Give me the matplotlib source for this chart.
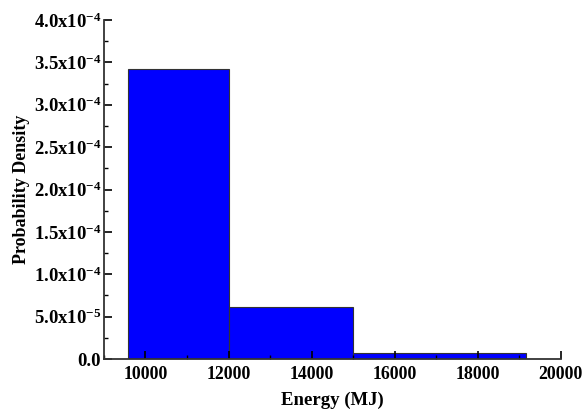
import numpy as np
import matplotlib
matplotlib.use("Agg")
import matplotlib.pyplot as plt
import matplotlib.ticker as mtick

# histogram bins (MJ) and probability density
bin_edges = [9580, 12000, 15000, 19160]
densities = [3.42e-4, 6.1e-5, 7.0e-6]

x_ticks = [10000, 12000, 14000, 16000, 18000, 20000]
y_ticks = [0.0, 5e-5, 1e-4, 1.5e-4, 2e-4, 2.5e-4, 3e-4, 3.5e-4, 4e-4]


def sci_label(v, pos=None):
    if v == 0:
        return "0.0"
    exp = int(np.floor(np.log10(abs(v))))
    mant = v / 10 ** exp
    return "%.1fx10$^{%d}$" % (mant, exp)


def main():
    plt.rcParams['font.family'] = ['Liberation Serif', 'DejaVu Serif']
    plt.rcParams['font.weight'] = 'bold'
    plt.rcParams['mathtext.fontset'] = 'custom'
    plt.rcParams['mathtext.rm'] = 'Liberation Serif:bold'
    plt.rcParams['mathtext.it'] = 'Liberation Serif:bold'
    plt.rcParams['mathtext.bf'] = 'Liberation Serif:bold'

    fig = plt.figure(figsize=(5.84, 4.17), dpi=100)
    ax = fig.add_axes([0.178, 0.139, 0.782, 0.813])

    lefts = bin_edges[:-1]
    widths = np.diff(bin_edges)
    ax.bar(lefts, densities, width=widths, align='edge', color='#0000ff',
           edgecolor='#333333', linewidth=0.8)

    ax.set_xlim(9000, 20000)
    ax.set_ylim(0, 4e-4)
    ax.set_xticks(x_ticks)
    ax.set_yticks(y_ticks)
    ax.xaxis.set_minor_locator(mtick.MultipleLocator(1000))
    ax.yaxis.set_minor_locator(mtick.MultipleLocator(2.5e-5))
    ax.yaxis.set_major_formatter(mtick.FuncFormatter(sci_label))

    ax.spines['top'].set_visible(False)
    ax.spines['right'].set_visible(False)
    ax.spines['left'].set_linewidth(1.3)
    ax.spines['bottom'].set_linewidth(1.3)
    ax.spines['left'].set_color('#333333')
    ax.spines['bottom'].set_color('#333333')

    ax.tick_params(which='major', direction='in', length=6, width=1.2)
    ax.tick_params(which='minor', direction='in', length=3, width=1.0)
    ax.tick_params(axis='x', which='major', labelsize=12.8, pad=5)
    ax.tick_params(axis='y', which='major', labelsize=13.5, pad=2)
    for lab in ax.get_xticklabels() + ax.get_yticklabels():
        lab.set_fontweight('bold')

    ax.set_xlabel("Energy (MJ)", fontsize=13.5, fontweight='bold', labelpad=6)
    ax.set_ylabel("Probability Density", fontsize=13, fontweight='bold', labelpad=3)

    fig.savefig("out.png", dpi=100)


if __name__ == '__main__':
    main()
